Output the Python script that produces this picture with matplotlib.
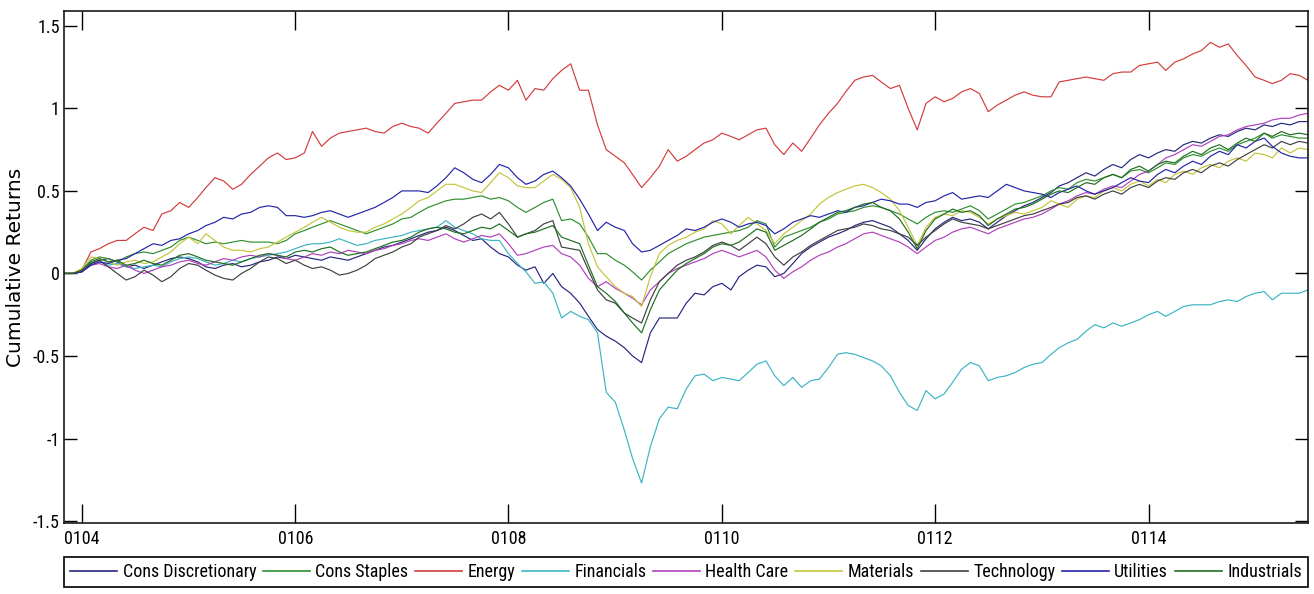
import matplotlib
matplotlib.use("Agg")
import matplotlib.pyplot as plt
import matplotlib.dates as mdates
from matplotlib import font_manager
import pandas as pd

# ---------------- data (monthly cumulative returns, Nov 2003 - Jul 2015) ----------------
start_month = "2003-11-01"
n_months = 141

cons_discretionary = [
    0, 0, 0.01, 0.06, 0.08, 0.09, 0.07, 0.04, 0.05, 0.03, 0.05, 0.07, 0.09, 0.10, 0.09, 0.07, 0.04, 0.03, 0.05, 0.06,
    0.04, 0.05, 0.07, 0.08, 0.10, 0.09, 0.11, 0.10, 0.09, 0.08, 0.10, 0.09, 0.08, 0.10, 0.12, 0.14, 0.16, 0.17, 0.19, 0.21,
    0.23, 0.25, 0.26, 0.28, 0.26, 0.23, 0.20, 0.21, 0.16, 0.12, 0.10, 0.05, 0.02, 0.04, -0.06, 0.00, -0.08, -0.12, -0.18, -0.26,
    -0.34, -0.38, -0.41, -0.45, -0.50, -0.54, -0.36, -0.27, -0.27, -0.27, -0.18, -0.12, -0.13, -0.08, -0.06, -0.10, -0.02, 0.02, 0.05, 0.04,
    -0.02, 0.00, 0.06, 0.12, 0.16, 0.19, 0.22, 0.24, 0.26, 0.29, 0.31, 0.32, 0.30, 0.28, 0.24, 0.20, 0.14, 0.21, 0.27, 0.31,
    0.34, 0.32, 0.33, 0.31, 0.27, 0.31, 0.35, 0.38, 0.41, 0.43, 0.46, 0.49, 0.53, 0.55, 0.58, 0.61, 0.59, 0.63, 0.66, 0.64,
    0.69, 0.72, 0.70, 0.73, 0.75, 0.74, 0.78, 0.80, 0.79, 0.82, 0.84, 0.83, 0.86, 0.88, 0.87, 0.90, 0.89, 0.91, 0.90, 0.92,
    0.92]

cons_staples = [
    0, 0, 0.02, 0.08, 0.10, 0.09, 0.07, 0.10, 0.12, 0.13, 0.12, 0.14, 0.16, 0.20, 0.22, 0.20, 0.18, 0.19, 0.18, 0.19,
    0.20, 0.19, 0.19, 0.19, 0.18, 0.20, 0.24, 0.26, 0.28, 0.30, 0.32, 0.30, 0.28, 0.26, 0.24, 0.26, 0.28, 0.30, 0.33, 0.34,
    0.37, 0.40, 0.42, 0.44, 0.45, 0.45, 0.46, 0.47, 0.45, 0.46, 0.44, 0.40, 0.37, 0.40, 0.43, 0.45, 0.32, 0.33, 0.30, 0.22,
    0.12, 0.12, 0.08, 0.05, 0.01, -0.04, 0.02, 0.07, 0.12, 0.15, 0.18, 0.20, 0.22, 0.23, 0.24, 0.25, 0.26, 0.28, 0.32, 0.30,
    0.16, 0.22, 0.24, 0.26, 0.28, 0.31, 0.33, 0.36, 0.37, 0.38, 0.40, 0.41, 0.40, 0.38, 0.36, 0.33, 0.30, 0.34, 0.37, 0.38,
    0.37, 0.39, 0.41, 0.38, 0.33, 0.36, 0.39, 0.42, 0.43, 0.45, 0.47, 0.50, 0.52, 0.51, 0.55, 0.57, 0.56, 0.58, 0.60, 0.58,
    0.62, 0.63, 0.61, 0.64, 0.67, 0.66, 0.70, 0.72, 0.71, 0.74, 0.76, 0.74, 0.78, 0.80, 0.82, 0.85, 0.82, 0.84, 0.83, 0.82,
    0.82]

energy = [
    0, 0, 0.02, 0.13, 0.15, 0.18, 0.20, 0.20, 0.24, 0.28, 0.26, 0.36, 0.38, 0.43, 0.40, 0.46, 0.52, 0.58, 0.56, 0.51,
    0.54, 0.60, 0.65, 0.70, 0.73, 0.69, 0.70, 0.73, 0.86, 0.77, 0.82, 0.85, 0.86, 0.87, 0.88, 0.86, 0.85, 0.89, 0.91, 0.89,
    0.88, 0.85, 0.91, 0.97, 1.03, 1.04, 1.05, 1.05, 1.10, 1.14, 1.11, 1.17, 1.05, 1.12, 1.11, 1.18, 1.23, 1.27, 1.11, 1.11,
    0.90, 0.75, 0.71, 0.67, 0.60, 0.52, 0.58, 0.65, 0.75, 0.68, 0.71, 0.75, 0.79, 0.81, 0.85, 0.83, 0.81, 0.84, 0.87, 0.88,
    0.78, 0.72, 0.79, 0.74, 0.82, 0.90, 0.97, 1.03, 1.10, 1.17, 1.19, 1.20, 1.16, 1.12, 1.14, 1.00, 0.87, 1.03, 1.07, 1.04,
    1.06, 1.10, 1.12, 1.09, 0.98, 1.02, 1.05, 1.08, 1.10, 1.08, 1.07, 1.07, 1.16, 1.17, 1.18, 1.19, 1.18, 1.17, 1.21, 1.22,
    1.22, 1.26, 1.27, 1.28, 1.23, 1.28, 1.30, 1.33, 1.35, 1.40, 1.37, 1.39, 1.32, 1.26, 1.19, 1.17, 1.15, 1.17, 1.21, 1.20,
    1.17]

financials = [
    0, 0, 0.01, 0.05, 0.07, 0.05, 0.06, 0.04, 0.03, 0.04, 0.05, 0.04, 0.07, 0.09, 0.10, 0.09, 0.07, 0.05, 0.06, 0.08,
    0.07, 0.09, 0.10, 0.11, 0.12, 0.13, 0.15, 0.17, 0.18, 0.18, 0.19, 0.21, 0.19, 0.17, 0.18, 0.20, 0.21, 0.22, 0.23, 0.25,
    0.26, 0.27, 0.28, 0.32, 0.28, 0.26, 0.24, 0.21, 0.20, 0.20, 0.12, 0.06, 0.01, -0.06, -0.05, -0.12, -0.27, -0.23, -0.26, -0.28,
    -0.36, -0.72, -0.78, -0.95, -1.12, -1.27, -1.05, -0.88, -0.81, -0.82, -0.70, -0.62, -0.61, -0.65, -0.63, -0.64, -0.65, -0.60, -0.55, -0.53,
    -0.62, -0.68, -0.63, -0.69, -0.65, -0.64, -0.57, -0.49, -0.48, -0.49, -0.51, -0.53, -0.56, -0.62, -0.72, -0.80, -0.83, -0.71, -0.76, -0.73,
    -0.66, -0.58, -0.54, -0.56, -0.65, -0.63, -0.62, -0.60, -0.57, -0.55, -0.54, -0.49, -0.45, -0.42, -0.40, -0.35, -0.31, -0.33, -0.30, -0.32,
    -0.30, -0.28, -0.25, -0.23, -0.26, -0.23, -0.20, -0.19, -0.19, -0.19, -0.17, -0.16, -0.17, -0.14, -0.12, -0.11, -0.16, -0.12, -0.12, -0.12,
    -0.10]

health_care = [
    0, 0, 0.01, 0.05, 0.06, 0.04, 0.03, 0.05, 0.02, 0.00, 0.02, 0.04, 0.05, 0.07, 0.08, 0.06, 0.05, 0.07, 0.09, 0.08,
    0.10, 0.11, 0.10, 0.12, 0.11, 0.09, 0.08, 0.10, 0.12, 0.11, 0.13, 0.12, 0.14, 0.13, 0.12, 0.14, 0.15, 0.17, 0.18, 0.20,
    0.21, 0.20, 0.22, 0.24, 0.21, 0.19, 0.21, 0.23, 0.22, 0.24, 0.18, 0.11, 0.12, 0.14, 0.16, 0.17, 0.12, 0.10, 0.05, -0.03,
    -0.08, -0.05, -0.09, -0.12, -0.15, -0.19, -0.10, -0.05, 0.00, 0.03, 0.05, 0.07, 0.09, 0.12, 0.14, 0.12, 0.10, 0.12, 0.14, 0.10,
    0.02, -0.03, 0.01, 0.04, 0.08, 0.11, 0.13, 0.16, 0.18, 0.21, 0.24, 0.25, 0.23, 0.21, 0.19, 0.16, 0.12, 0.16, 0.20, 0.22,
    0.25, 0.27, 0.28, 0.26, 0.24, 0.27, 0.29, 0.31, 0.33, 0.34, 0.36, 0.39, 0.42, 0.44, 0.47, 0.49, 0.48, 0.51, 0.53, 0.52,
    0.56, 0.60, 0.62, 0.66, 0.70, 0.72, 0.75, 0.78, 0.77, 0.80, 0.83, 0.84, 0.87, 0.89, 0.90, 0.91, 0.93, 0.94, 0.94, 0.96,
    0.97]

materials = [
    0, 0, 0.03, 0.10, 0.09, 0.07, 0.05, 0.07, 0.08, 0.06, 0.07, 0.10, 0.13, 0.18, 0.22, 0.18, 0.24, 0.20, 0.16, 0.14,
    0.14, 0.13, 0.15, 0.16, 0.19, 0.22, 0.25, 0.28, 0.31, 0.34, 0.31, 0.28, 0.26, 0.25, 0.25, 0.28, 0.30, 0.33, 0.36, 0.40,
    0.44, 0.46, 0.50, 0.54, 0.54, 0.52, 0.50, 0.49, 0.55, 0.61, 0.58, 0.53, 0.52, 0.52, 0.56, 0.60, 0.57, 0.52, 0.40, 0.18,
    0.04, -0.02, -0.08, -0.12, -0.14, -0.20, -0.02, 0.12, 0.17, 0.20, 0.22, 0.25, 0.27, 0.32, 0.30, 0.24, 0.29, 0.34, 0.30, 0.26,
    0.18, 0.24, 0.28, 0.32, 0.36, 0.42, 0.46, 0.49, 0.51, 0.53, 0.54, 0.52, 0.49, 0.45, 0.38, 0.28, 0.17, 0.28, 0.34, 0.36,
    0.35, 0.38, 0.37, 0.34, 0.30, 0.33, 0.35, 0.37, 0.36, 0.38, 0.40, 0.44, 0.42, 0.40, 0.45, 0.47, 0.46, 0.50, 0.52, 0.50,
    0.54, 0.56, 0.53, 0.57, 0.55, 0.60, 0.62, 0.60, 0.64, 0.66, 0.64, 0.68, 0.70, 0.68, 0.73, 0.72, 0.70, 0.76, 0.73, 0.76,
    0.75]

technology = [
    0, 0, 0.01, 0.06, 0.08, 0.04, 0.00, -0.04, -0.02, 0.02, -0.01, -0.05, -0.02, 0.03, 0.06, 0.05, 0.02, -0.01, -0.03, -0.04,
    0.00, 0.03, 0.07, 0.10, 0.09, 0.06, 0.08, 0.05, 0.03, 0.04, 0.02, -0.01, 0.00, 0.02, 0.05, 0.09, 0.11, 0.13, 0.16, 0.18,
    0.22, 0.24, 0.26, 0.29, 0.27, 0.30, 0.34, 0.36, 0.33, 0.37, 0.30, 0.22, 0.24, 0.26, 0.30, 0.32, 0.16, 0.15, 0.14, 0.02,
    -0.10, -0.16, -0.18, -0.24, -0.27, -0.30, -0.16, -0.05, 0.00, 0.05, 0.08, 0.10, 0.13, 0.17, 0.19, 0.17, 0.14, 0.18, 0.22, 0.18,
    0.10, 0.05, 0.10, 0.13, 0.17, 0.20, 0.23, 0.26, 0.27, 0.28, 0.30, 0.29, 0.27, 0.26, 0.24, 0.22, 0.17, 0.22, 0.26, 0.30,
    0.33, 0.31, 0.30, 0.29, 0.27, 0.29, 0.31, 0.33, 0.35, 0.36, 0.38, 0.40, 0.42, 0.43, 0.46, 0.47, 0.45, 0.48, 0.50, 0.48,
    0.52, 0.54, 0.52, 0.56, 0.58, 0.57, 0.61, 0.63, 0.61, 0.65, 0.67, 0.65, 0.69, 0.72, 0.75, 0.78, 0.76, 0.80, 0.78, 0.80,
    0.79]

utilities = [
    0, 0, 0.01, 0.05, 0.07, 0.06, 0.08, 0.09, 0.12, 0.15, 0.18, 0.17, 0.20, 0.21, 0.24, 0.26, 0.29, 0.31, 0.34, 0.33,
    0.36, 0.37, 0.40, 0.41, 0.40, 0.35, 0.35, 0.34, 0.35, 0.37, 0.38, 0.36, 0.34, 0.36, 0.38, 0.40, 0.43, 0.46, 0.50, 0.50,
    0.50, 0.49, 0.53, 0.58, 0.64, 0.61, 0.57, 0.55, 0.60, 0.66, 0.64, 0.58, 0.54, 0.56, 0.60, 0.62, 0.58, 0.53, 0.45, 0.36,
    0.26, 0.31, 0.28, 0.26, 0.18, 0.13, 0.14, 0.17, 0.20, 0.23, 0.27, 0.26, 0.28, 0.31, 0.33, 0.31, 0.28, 0.30, 0.31, 0.29,
    0.24, 0.27, 0.31, 0.33, 0.35, 0.34, 0.36, 0.38, 0.37, 0.40, 0.41, 0.43, 0.45, 0.44, 0.42, 0.42, 0.40, 0.43, 0.44, 0.47,
    0.49, 0.45, 0.46, 0.47, 0.46, 0.50, 0.54, 0.52, 0.50, 0.49, 0.48, 0.46, 0.49, 0.51, 0.53, 0.50, 0.48, 0.50, 0.52, 0.55,
    0.58, 0.56, 0.55, 0.60, 0.63, 0.61, 0.65, 0.68, 0.66, 0.71, 0.74, 0.72, 0.78, 0.76, 0.80, 0.82, 0.77, 0.73, 0.71, 0.70,
    0.70]

industrials = [
    0, 0, 0.02, 0.07, 0.09, 0.07, 0.08, 0.05, 0.06, 0.08, 0.06, 0.05, 0.08, 0.11, 0.12, 0.10, 0.08, 0.07, 0.06, 0.05,
    0.07, 0.09, 0.11, 0.12, 0.11, 0.10, 0.13, 0.14, 0.13, 0.15, 0.16, 0.13, 0.11, 0.12, 0.13, 0.15, 0.17, 0.19, 0.20, 0.22,
    0.25, 0.27, 0.28, 0.27, 0.25, 0.24, 0.26, 0.28, 0.27, 0.30, 0.26, 0.22, 0.24, 0.25, 0.27, 0.29, 0.22, 0.20, 0.18, 0.05,
    -0.08, -0.12, -0.17, -0.24, -0.30, -0.36, -0.22, -0.10, -0.04, 0.02, 0.06, 0.09, 0.12, 0.16, 0.18, 0.17, 0.19, 0.23, 0.27, 0.25,
    0.14, 0.17, 0.20, 0.23, 0.27, 0.31, 0.34, 0.37, 0.38, 0.40, 0.42, 0.43, 0.40, 0.38, 0.33, 0.25, 0.15, 0.26, 0.33, 0.36,
    0.39, 0.37, 0.38, 0.35, 0.29, 0.33, 0.36, 0.39, 0.40, 0.42, 0.45, 0.48, 0.50, 0.49, 0.52, 0.55, 0.54, 0.58, 0.60, 0.58,
    0.63, 0.65, 0.62, 0.66, 0.68, 0.67, 0.71, 0.74, 0.72, 0.76, 0.78, 0.75, 0.79, 0.82, 0.80, 0.85, 0.83, 0.86, 0.84, 0.85,
    0.84]

series_names = ["Cons Discretionary", "Cons Staples", "Energy", "Financials", "Health Care",
                "Materials", "Technology", "Utilities", "Industrials"]
series_values = [cons_discretionary, cons_staples, energy, financials, health_care,
                 materials, technology, utilities, industrials]
series_colors = ["#26267e", "#2f8f2f", "#d23c3c", "#3cb4c4", "#b040bc",
                 "#c4c43c", "#404040", "#2424a8", "#1f6e1f"]

y_ticks = [-1.5, -1, -0.5, 0, 0.5, 1, 1.5]
y_tick_labels = ["-1.5", "-1", "-0.5", "0", "0.5", "1", "1.5"]
x_tick_years = [2004, 2006, 2008, 2010, 2012, 2014]

# ---------------- font choice: prefer a narrow face like the reference ----------------
installed = {f.name for f in font_manager.fontManager.ttflist}
narrow_face = None
for cand in ["Liberation Sans Narrow", "Arial Narrow", "DejaVu Sans Condensed",
             "Roboto Condensed", "Open Sans Condensed", "Noto Sans Condensed"]:
    if cand in installed:
        narrow_face = cand
        break
if narrow_face is not None:
    tick_font = [narrow_face, "DejaVu Sans"]
    tick_size = 13
    leg_size = 13
    handle_len = 2.6
else:
    tick_font = ["Liberation Sans", "DejaVu Sans"]
    tick_size = 12
    leg_size = 11
    handle_len = 3.0

# ---------------- plot ----------------
dates = pd.date_range(start_month, periods=n_months, freq="MS")

fig = plt.figure(figsize=(13.14, 5.94), dpi=100)
ax = fig.add_axes([0.0487, 0.1195, 0.9467, 0.862])

for name, vals, col in zip(series_names, series_values, series_colors):
    ax.plot(dates, vals, color=col, linewidth=0.85, label=name)

ax.set_xlim(dates[0], dates[-1])
ax.set_ylim(-1.512, 1.59)
ax.set_yticks(y_ticks)
ax.set_yticklabels(y_tick_labels, fontfamily=tick_font, fontsize=tick_size)
ax.set_xticks([pd.Timestamp(f"{y}-01-01") for y in x_tick_years])
ax.xaxis.set_major_formatter(mdates.DateFormatter("%m%y"))
for lab in ax.get_xticklabels():
    lab.set_fontfamily(tick_font)
    lab.set_fontsize(tick_size)

ax.tick_params(axis="x", direction="in", length=14, width=1.0, top=True, pad=5, colors="black")
ax.tick_params(axis="y", direction="in", length=9.5, width=1.0, right=True, pad=3, colors="black")
for sp in ax.spines.values():
    sp.set_linewidth(1.2)
    sp.set_color("#1a1a1a")

ax.set_ylabel("Cumulative Returns", fontsize=14.5, fontfamily="DejaVu Sans")
ax.yaxis.set_label_coords(-0.031, 0.5)

leg = ax.legend(loc="upper left", bbox_to_anchor=(0.0, -0.136, 1.0, 0.07), mode="expand",
                ncol=9, frameon=True, fancybox=False, edgecolor="black", framealpha=1,
                prop={"family": tick_font, "size": leg_size}, handlelength=handle_len,
                handletextpad=0.3, columnspacing=0.6, borderpad=0.35, borderaxespad=0)
leg.get_frame().set_linewidth(1.2)
for line in leg.get_lines():
    line.set_linewidth(1.2)

fig.savefig("out.png", dpi=100, facecolor="white")
